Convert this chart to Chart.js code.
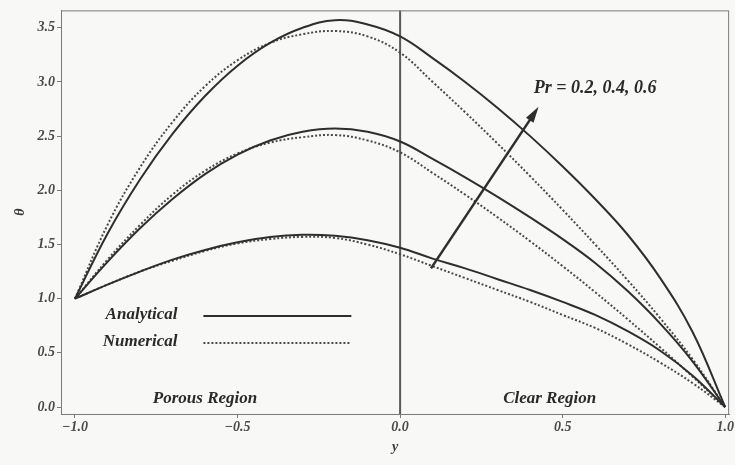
<!DOCTYPE html>
<html lang="en">
<head>
<meta charset="UTF-8">
<title>Temperature profiles</title>
<script src="https://cdn.jsdelivr.net/npm/chart.js"></script>
<style>
  body { margin: 0; background: #f8f8f6; }
  #wrap { width: 735px; height: 465px; }
</style>
</head>
<body>
<div id="wrap"><canvas id="myChart"></canvas></div>
<script>
// y positions across the channel
var yPos = [-1.0, -0.9, -0.8, -0.7, -0.6, -0.5, -0.4, -0.3, -0.2, -0.1, 0.0,
            0.1, 0.2, 0.3, 0.4, 0.5, 0.6, 0.7, 0.8, 0.9, 1.0]

// analytical solutions (solid)
var anaPr02 = [1.00, 1.13, 1.25, 1.36, 1.45, 1.52, 1.57, 1.59, 1.58, 1.54, 1.47,
               1.37, 1.28, 1.18, 1.08, 0.97, 0.85, 0.70, 0.52, 0.29, 0.00]
var anaPr04 = [1.00, 1.34, 1.65, 1.92, 2.15, 2.33, 2.46, 2.54, 2.57, 2.54, 2.45,
               2.29, 2.12, 1.94, 1.75, 1.55, 1.33, 1.07, 0.77, 0.42, 0.00]
var anaPr06 = [1.00, 1.60, 2.10, 2.52, 2.87, 3.15, 3.36, 3.50, 3.57, 3.53, 3.42,
               3.22, 3.00, 2.76, 2.50, 2.22, 1.92, 1.59, 1.19, 0.69, 0.00]

// numerical solutions (dotted)
var numPr02 = [1.00, 1.13, 1.25, 1.35, 1.44, 1.51, 1.55, 1.57, 1.56, 1.50, 1.41,
               1.30, 1.19, 1.08, 0.97, 0.85, 0.73, 0.58, 0.41, 0.22, 0.00]
var numPr04 = [1.00, 1.36, 1.68, 1.96, 2.18, 2.34, 2.44, 2.49, 2.51, 2.46, 2.35,
               2.16, 1.96, 1.75, 1.53, 1.30, 1.06, 0.81, 0.55, 0.28, 0.00]
var numPr06 = [1.00, 1.68, 2.21, 2.63, 2.96, 3.20, 3.36, 3.44, 3.47, 3.42, 3.27,
               3.00, 2.72, 2.43, 2.13, 1.82, 1.50, 1.17, 0.82, 0.44, 0.00]

var xTicks = [-1.0, -0.5, 0.0, 0.5, 1.0]
var yTicks = [0.0, 0.5, 1.0, 1.5, 2.0, 2.5, 3.0, 3.5]

// annotations, in data units
var arrowFrom = [0.095, 1.28]
var arrowTo = [0.426, 2.77]
var prLabel = ['Pr = 0.2, 0.4, 0.6', 0.60, 2.94]
var regionLabels = [['Porous Region', -0.60, 0.08], ['Clear Region', 0.46, 0.08]]
var legendLabels = ['Analytical', 'Numerical']
var legendY = [0.85, 0.60]
var legendTextX = -0.685
var legendLineX = [-0.605, -0.15]

var serif = 'Liberation Serif, Times New Roman, serif'
var labelFont = { family: serif, style: 'italic', weight: 'bold', size: 14 }

function pts(vals) {
    return yPos.map(function (x, i) { return { x: x, y: vals[i] } })
}
function solid(vals) {
    return { data: pts(vals), borderColor: '#2e2e2e', borderWidth: 2, pointRadius: 0,
             tension: 0.4, fill: false }
}
function dotted(vals) {
    return { data: pts(vals), borderColor: '#4a4a4a', borderWidth: 2, borderDash: [2, 2],
             pointRadius: 0, tension: 0.4, fill: false }
}
function fmt(v) {
    var s = Math.abs(v).toFixed(1)
    return v < 0 ? '\u2212' + s : s
}

const bg = {
    id: 'bg',
    beforeDraw: function (chart) {
        var c = chart.ctx
        c.save()
        c.fillStyle = '#f8f8f6'
        c.fillRect(0, 0, chart.width, chart.height)
        c.restore()
    }
}

const annot = {
    id: 'annot',
    beforeDatasetsDraw: function (chart) {
        var c = chart.ctx, a = chart.chartArea
        var xs = chart.scales.x
        c.save()
        c.strokeStyle = '#5a5a5a'
        c.lineWidth = 2
        c.beginPath()
        c.moveTo(xs.getPixelForValue(0), a.top)
        c.lineTo(xs.getPixelForValue(0), a.bottom)
        c.stroke()
        c.restore()
    },
    afterDatasetsDraw: function (chart) {
        var c = chart.ctx, a = chart.chartArea
        var xs = chart.scales.x, ys = chart.scales.y
        c.save()
        // frame
        c.strokeStyle = '#7a7a7a'
        c.lineWidth = 1
        c.strokeRect(a.left + 0.5, a.top + 0.5, a.right - a.left - 1, a.bottom - a.top)

        // arrow
        var x1 = xs.getPixelForValue(arrowFrom[0]), y1 = ys.getPixelForValue(arrowFrom[1])
        var x2 = xs.getPixelForValue(arrowTo[0]), y2 = ys.getPixelForValue(arrowTo[1])
        var ang = Math.atan2(y2 - y1, x2 - x1)
        c.strokeStyle = '#2e2e2e'
        c.fillStyle = '#2e2e2e'
        c.lineWidth = 2.5
        c.beginPath()
        c.moveTo(x1, y1)
        c.lineTo(x2 - 10 * Math.cos(ang), y2 - 10 * Math.sin(ang))
        c.stroke()
        c.beginPath()
        c.moveTo(x2, y2)
        c.lineTo(x2 - 16 * Math.cos(ang) + 4.5 * Math.sin(ang), y2 - 16 * Math.sin(ang) - 4.5 * Math.cos(ang))
        c.lineTo(x2 - 16 * Math.cos(ang) - 4.5 * Math.sin(ang), y2 - 16 * Math.sin(ang) + 4.5 * Math.cos(ang))
        c.closePath()
        c.fill()

        // texts
        c.fillStyle = '#2a2a2a'
        c.textAlign = 'center'
        c.textBaseline = 'middle'
        c.font = 'italic bold 18px ' + serif
        c.fillText(prLabel[0], xs.getPixelForValue(prLabel[1]), ys.getPixelForValue(prLabel[2]))
        c.font = 'italic bold 17px ' + serif
        regionLabels.forEach(function (r) {
            c.fillText(r[0], xs.getPixelForValue(r[1]), ys.getPixelForValue(r[2]))
        })

        // legend
        c.textAlign = 'right'
        legendLabels.forEach(function (t, i) {
            var py = ys.getPixelForValue(legendY[i])
            c.fillText(t, xs.getPixelForValue(legendTextX), py)
            c.beginPath()
            c.lineWidth = 2
            if (i == 0) { c.setLineDash([]); c.strokeStyle = '#2e2e2e' }
            else { c.setLineDash([2, 2]); c.strokeStyle = '#4a4a4a' }
            c.moveTo(xs.getPixelForValue(legendLineX[0]), py + 1)
            c.lineTo(xs.getPixelForValue(legendLineX[1]), py + 1)
            c.stroke()
        })
        c.restore()
    }
}

const data = {
    datasets: [solid(anaPr02), solid(anaPr04), solid(anaPr06),
               dotted(numPr02), dotted(numPr04), dotted(numPr06)]
}

const config = {
    type: 'line',
    data,
    options: {
        responsive: true,
        maintainAspectRatio: false,
        animation: false,
        layout: { padding: { top: 8, right: 4, left: 12, bottom: 9 } },
        plugins: { legend: { display: false }, tooltip: { enabled: false } },
        scales: {
            x: {
                type: 'linear',
                min: -1.043,
                max: 1.012,
                afterBuildTicks: function (s) { s.ticks = xTicks.map(function (v) { return { value: v } }) },
                afterFit: function (s) { s.height = 42 },
                ticks: { callback: fmt, color: '#4a4a4a', font: labelFont, padding: 1,
                         maxRotation: 0, autoSkip: false },
                grid: { drawOnChartArea: false, tickLength: 4, color: '#7a7a7a' },
                border: { color: '#7a7a7a' },
                title: { display: true, text: 'y', color: '#3a3a3a', font: labelFont, padding: 0 }
            },
            y: {
                min: -0.064,
                max: 3.66,
                afterBuildTicks: function (s) { s.ticks = yTicks.map(function (v) { return { value: v } }) },
                afterFit: function (s) { s.width = 49 },
                ticks: { callback: fmt, color: '#4a4a4a', font: labelFont, padding: 2, autoSkip: false },
                grid: { drawOnChartArea: false, tickLength: 4, color: '#7a7a7a' },
                border: { color: '#7a7a7a' },
                title: { display: true, text: '\u03b8', color: '#3a3a3a', font: labelFont, padding: 0 }
            }
        }
    },
    plugins: [bg, annot]
}

var myChart = new Chart(document.getElementById('myChart'), config)
</script>
</body>
</html>
